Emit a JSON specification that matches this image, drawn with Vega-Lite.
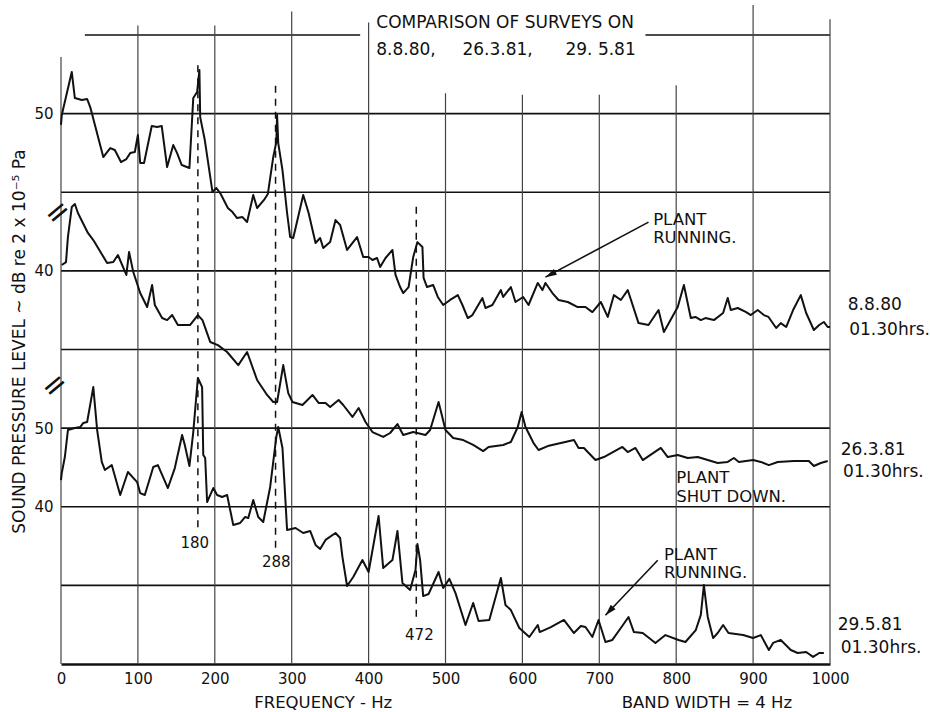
{
  "$schema": "https://vega.github.io/schema/vega-lite/v6.json",
  "width": 769,
  "height": 629,
  "autosize": {"type": "none"},
  "padding": {"left": 61, "top": 35, "right": 100, "bottom": 48},
  "background": "white",
  "config": {"view": {"stroke": null}, "font": "DejaVu Sans", "text": {"color": "#111", "font": "DejaVu Sans"}},
  "datasets": {
    "hlines": [
      {"f": 0, "f2": 1000, "v": 5}, {"f": 0, "f2": 1000, "v": 10}, {"f": 0, "f2": 1000, "v": 15},
      {"f": 0, "f2": 1000, "v": 20}, {"f": 0, "f2": 1000, "v": 25}, {"f": 0, "f2": 1000, "v": 30},
      {"f": 0, "f2": 1000, "v": 35}, {"f": 31, "f2": 389, "v": 40}, {"f": 760, "f2": 1000, "v": 40}
    ],
    "vlines": [
      {"f": 0, "v": 0, "v2": 38.6}, {"f": 100, "v": 0, "v2": 40.6}, {"f": 200, "v": 0, "v2": 40.6},
      {"f": 300, "v": 0, "v2": 41.5}, {"f": 400, "v": 0, "v2": 40.8}, {"f": 500, "v": 0, "v2": 36.3},
      {"f": 600, "v": 0, "v2": 36.2}, {"f": 700, "v": 0, "v2": 36.2}, {"f": 800, "v": 0, "v2": 36.8},
      {"f": 900, "v": 0, "v2": 41.9}, {"f": 1000, "v": 0, "v2": 41.0}
    ],
    "dashes": [
      {"f": 178, "v": 8.7, "v2": 38.4}, {"f": 279, "v": 7.4, "v2": 37.1}, {"f": 462, "v": 3.0, "v2": 29.3}
    ],
    "arrows": [
      {"id": 1, "f": 764, "v": 28.1, "f2": 630, "v2": 24.6},
      {"id": 2, "f": 776, "v": 6.6, "f2": 708, "v2": 3.1}
    ],
    "heads": [
      {"id": 1, "f": 630, "v": 24.6},
      {"id": 2, "f": 708, "v": 3.1}
    ],
    "breaks": [{"f": -4, "v": 28.7, "t": "="}, {"f": -8, "v": 17.7, "t": "="}],
    "notes": [
      {"g": "big", "f": 410, "v": 40.45, "t": "COMPARISON OF SURVEYS ON"},
      {"g": "big", "f": 410, "v": 38.73, "t": "8.8.80,"},
      {"g": "big", "f": 522, "v": 38.73, "t": "26.3.81,"},
      {"g": "big", "f": 656, "v": 38.73, "t": "29. 5.81"},
      {"g": "big", "f": 1023, "v": 22.51, "t": "8.8.80"},
      {"g": "big", "f": 1025, "v": 20.92, "t": "01.30hrs."},
      {"g": "big", "f": 1014, "v": 13.29, "t": "26.3.81"},
      {"g": "big", "f": 1017, "v": 11.89, "t": "01.30hrs."},
      {"g": "big", "f": 1010, "v": 2.16, "t": "29.5.81"},
      {"g": "big", "f": 1014, "v": 0.7, "t": "01.30hrs."},
      {"g": "ann", "f": 770, "v": 27.92, "t": "PLANT"},
      {"g": "ann", "f": 770, "v": 26.77, "t": "RUNNING."},
      {"g": "ann", "f": 800, "v": 11.51, "t": "PLANT"},
      {"g": "ann", "f": 800, "v": 10.3, "t": "SHUT DOWN."},
      {"g": "ann", "f": 784, "v": 6.61, "t": "PLANT"},
      {"g": "ann", "f": 784, "v": 5.47, "t": "RUNNING."},
      {"g": "hz", "f": 174, "v": 7.38, "t": "180"},
      {"g": "hz", "f": 280, "v": 6.17, "t": "288"},
      {"g": "hz", "f": 466, "v": 1.53, "t": "472"},
      {"g": "xt", "f": 341, "v": -2.8, "t": "FREQUENCY - Hz"},
      {"g": "xt", "f": 840, "v": -2.8, "t": "BAND WIDTH = 4 Hz"}
    ],
    "traces": [
      {"s":"8.8.80","f":0,"v":34.28},{"s":"8.8.80","f":1,"v":34.91},{"s":"8.8.80","f":14,"v":37.65},{"s":"8.8.80","f":18,"v":35.99},{"s":"8.8.80","f":27,"v":35.87},{"s":"8.8.80","f":34,"v":35.93},{"s":"8.8.80","f":38,"v":35.42},{"s":"8.8.80","f":55,"v":32.24},{"s":"8.8.80","f":64,"v":32.81},{"s":"8.8.80","f":70,"v":32.69},{"s":"8.8.80","f":78,"v":31.92},{"s":"8.8.80","f":85,"v":32.11},{"s":"8.8.80","f":90,"v":32.49},{"s":"8.8.80","f":96,"v":32.56},{"s":"8.8.80","f":100,"v":33.64},{"s":"8.8.80","f":103,"v":31.86},{"s":"8.8.80","f":108,"v":31.86},{"s":"8.8.80","f":118,"v":34.21},{"s":"8.8.80","f":125,"v":34.15},{"s":"8.8.80","f":131,"v":34.21},{"s":"8.8.80","f":138,"v":31.6},{"s":"8.8.80","f":146,"v":33.0},{"s":"8.8.80","f":151,"v":32.49},{"s":"8.8.80","f":157,"v":31.73},{"s":"8.8.80","f":167,"v":31.54},{"s":"8.8.80","f":172,"v":35.99},{"s":"8.8.80","f":177,"v":36.37},{"s":"8.8.80","f":180,"v":37.77},{"s":"8.8.80","f":181,"v":34.78},{"s":"8.8.80","f":187,"v":33.32},{"s":"8.8.80","f":197,"v":30.01},{"s":"8.8.80","f":202,"v":30.27},{"s":"8.8.80","f":207,"v":29.95},{"s":"8.8.80","f":217,"v":29.0},{"s":"8.8.80","f":223,"v":28.74},{"s":"8.8.80","f":229,"v":28.36},{"s":"8.8.80","f":236,"v":28.42},{"s":"8.8.80","f":242,"v":28.11},{"s":"8.8.80","f":250,"v":29.82},{"s":"8.8.80","f":255,"v":29.0},{"s":"8.8.80","f":264,"v":29.51},{"s":"8.8.80","f":269,"v":29.89},{"s":"8.8.80","f":276,"v":32.24},{"s":"8.8.80","f":280,"v":33.19},{"s":"8.8.80","f":281,"v":34.91},{"s":"8.8.80","f":282.5,"v":33.13},{"s":"8.8.80","f":288,"v":31.41},{"s":"8.8.80","f":294,"v":28.68},{"s":"8.8.80","f":298,"v":27.15},{"s":"8.8.80","f":302,"v":27.09},{"s":"8.8.80","f":315,"v":29.82},{"s":"8.8.80","f":322,"v":28.68},{"s":"8.8.80","f":331,"v":26.77},{"s":"8.8.80","f":337,"v":27.09},{"s":"8.8.80","f":341,"v":26.45},{"s":"8.8.80","f":350,"v":26.83},{"s":"8.8.80","f":357,"v":28.23},{"s":"8.8.80","f":363,"v":27.92},{"s":"8.8.80","f":372,"v":26.33},{"s":"8.8.80","f":385,"v":27.15},{"s":"8.8.80","f":393,"v":25.88},{"s":"8.8.80","f":400,"v":25.88},{"s":"8.8.80","f":405,"v":25.69},{"s":"8.8.80","f":411,"v":25.82},{"s":"8.8.80","f":415,"v":25.25},{"s":"8.8.80","f":422,"v":25.82},{"s":"8.8.80","f":431,"v":26.33},{"s":"8.8.80","f":435,"v":24.74},{"s":"8.8.80","f":441,"v":23.97},{"s":"8.8.80","f":445,"v":23.59},{"s":"8.8.80","f":452,"v":23.97},{"s":"8.8.80","f":458,"v":25.88},{"s":"8.8.80","f":463.5,"v":26.83},{"s":"8.8.80","f":470,"v":26.52},{"s":"8.8.80","f":471.5,"v":24.55},{"s":"8.8.80","f":476,"v":23.97},{"s":"8.8.80","f":484,"v":24.1},{"s":"8.8.80","f":490,"v":23.34},{"s":"8.8.80","f":497,"v":22.83},{"s":"8.8.80","f":506,"v":23.15},{"s":"8.8.80","f":516,"v":23.46},{"s":"8.8.80","f":522,"v":22.83},{"s":"8.8.80","f":529,"v":22.0},{"s":"8.8.80","f":535,"v":22.19},{"s":"8.8.80","f":548,"v":23.27},{"s":"8.8.80","f":552,"v":22.64},{"s":"8.8.80","f":561,"v":22.83},{"s":"8.8.80","f":572,"v":23.78},{"s":"8.8.80","f":575,"v":23.34},{"s":"8.8.80","f":585,"v":23.97},{"s":"8.8.80","f":591,"v":23.02},{"s":"8.8.80","f":601,"v":23.34},{"s":"8.8.80","f":608,"v":22.83},{"s":"8.8.80","f":620,"v":24.23},{"s":"8.8.80","f":626,"v":23.78},{"s":"8.8.80","f":630,"v":24.23},{"s":"8.8.80","f":639,"v":23.59},{"s":"8.8.80","f":647,"v":23.15},{"s":"8.8.80","f":659,"v":23.02},{"s":"8.8.80","f":672,"v":22.7},{"s":"8.8.80","f":682,"v":22.7},{"s":"8.8.80","f":691,"v":22.38},{"s":"8.8.80","f":702,"v":23.02},{"s":"8.8.80","f":711,"v":22.07},{"s":"8.8.80","f":719,"v":23.46},{"s":"8.8.80","f":728,"v":23.15},{"s":"8.8.80","f":737,"v":23.78},{"s":"8.8.80","f":751,"v":21.68},{"s":"8.8.80","f":764,"v":21.56},{"s":"8.8.80","f":777,"v":22.51},{"s":"8.8.80","f":784,"v":21.11},{"s":"8.8.80","f":802,"v":22.7},{"s":"8.8.80","f":810,"v":24.1},{"s":"8.8.80","f":819,"v":22.0},{"s":"8.8.80","f":825,"v":22.07},{"s":"8.8.80","f":832,"v":21.87},{"s":"8.8.80","f":838,"v":22.0},{"s":"8.8.80","f":849,"v":21.87},{"s":"8.8.80","f":861,"v":22.32},{"s":"8.8.80","f":867,"v":23.27},{"s":"8.8.80","f":871,"v":22.51},{"s":"8.8.80","f":880,"v":22.64},{"s":"8.8.80","f":891,"v":22.38},{"s":"8.8.80","f":897,"v":22.19},{"s":"8.8.80","f":906,"v":22.51},{"s":"8.8.80","f":914,"v":22.19},{"s":"8.8.80","f":920,"v":22.07},{"s":"8.8.80","f":930,"v":21.37},{"s":"8.8.80","f":936,"v":21.68},{"s":"8.8.80","f":943,"v":21.43},{"s":"8.8.80","f":952,"v":22.51},{"s":"8.8.80","f":962,"v":23.46},{"s":"8.8.80","f":969,"v":22.32},{"s":"8.8.80","f":979,"v":21.24},{"s":"8.8.80","f":986,"v":21.56},{"s":"8.8.80","f":992,"v":21.75},{"s":"8.8.80","f":997,"v":21.43},{"s":"8.8.80","f":1000,"v":21.43},
      {"s":"26.3.81","f":1,"v":25.37},{"s":"26.3.81","f":6.5,"v":25.56},{"s":"26.3.81","f":9,"v":27.15},{"s":"26.3.81","f":14,"v":29.06},{"s":"26.3.81","f":18,"v":29.25},{"s":"26.3.81","f":22,"v":28.68},{"s":"26.3.81","f":35,"v":27.41},{"s":"26.3.81","f":42,"v":26.96},{"s":"26.3.81","f":60,"v":25.5},{"s":"26.3.81","f":68,"v":25.56},{"s":"26.3.81","f":74,"v":26.01},{"s":"26.3.81","f":85,"v":24.74},{"s":"26.3.81","f":88.5,"v":26.2},{"s":"26.3.81","f":94,"v":24.93},{"s":"26.3.81","f":103,"v":23.59},{"s":"26.3.81","f":112,"v":22.7},{"s":"26.3.81","f":118.5,"v":24.1},{"s":"26.3.81","f":122,"v":22.83},{"s":"26.3.81","f":131.5,"v":22.0},{"s":"26.3.81","f":138,"v":21.87},{"s":"26.3.81","f":144.5,"v":22.19},{"s":"26.3.81","f":152,"v":21.56},{"s":"26.3.81","f":168,"v":21.56},{"s":"26.3.81","f":178,"v":22.19},{"s":"26.3.81","f":184,"v":21.87},{"s":"26.3.81","f":194,"v":20.48},{"s":"26.3.81","f":204,"v":20.28},{"s":"26.3.81","f":216,"v":19.84},{"s":"26.3.81","f":230.5,"v":19.01},{"s":"26.3.81","f":242,"v":19.84},{"s":"26.3.81","f":255,"v":18.06},{"s":"26.3.81","f":268,"v":17.11},{"s":"26.3.81","f":276,"v":16.66},{"s":"26.3.81","f":281,"v":16.66},{"s":"26.3.81","f":289,"v":19.01},{"s":"26.3.81","f":295.5,"v":17.23},{"s":"26.3.81","f":301,"v":16.66},{"s":"26.3.81","f":314,"v":16.47},{"s":"26.3.81","f":327,"v":17.11},{"s":"26.3.81","f":335,"v":16.6},{"s":"26.3.81","f":344,"v":16.6},{"s":"26.3.81","f":350,"v":16.34},{"s":"26.3.81","f":361,"v":16.79},{"s":"26.3.81","f":367,"v":16.47},{"s":"26.3.81","f":379,"v":15.71},{"s":"26.3.81","f":387,"v":16.28},{"s":"26.3.81","f":396,"v":15.39},{"s":"26.3.81","f":405,"v":14.75},{"s":"26.3.81","f":419,"v":14.44},{"s":"26.3.81","f":428,"v":14.69},{"s":"26.3.81","f":437.5,"v":15.26},{"s":"26.3.81","f":445,"v":14.56},{"s":"26.3.81","f":458,"v":14.75},{"s":"26.3.81","f":474,"v":14.56},{"s":"26.3.81","f":480,"v":14.88},{"s":"26.3.81","f":491,"v":16.66},{"s":"26.3.81","f":500,"v":14.88},{"s":"26.3.81","f":510,"v":14.37},{"s":"26.3.81","f":523,"v":14.24},{"s":"26.3.81","f":536,"v":13.93},{"s":"26.3.81","f":549,"v":13.54},{"s":"26.3.81","f":556,"v":13.8},{"s":"26.3.81","f":575,"v":13.93},{"s":"26.3.81","f":585,"v":14.12},{"s":"26.3.81","f":594,"v":15.07},{"s":"26.3.81","f":599,"v":16.02},{"s":"26.3.81","f":604,"v":15.07},{"s":"26.3.81","f":614.5,"v":14.05},{"s":"26.3.81","f":621,"v":13.61},{"s":"26.3.81","f":633,"v":13.86},{"s":"26.3.81","f":650,"v":14.05},{"s":"26.3.81","f":667,"v":14.24},{"s":"26.3.81","f":673,"v":13.74},{"s":"26.3.81","f":680,"v":13.74},{"s":"26.3.81","f":695,"v":12.97},{"s":"26.3.81","f":706,"v":13.16},{"s":"26.3.81","f":730,"v":13.8},{"s":"26.3.81","f":737,"v":13.48},{"s":"26.3.81","f":747,"v":13.74},{"s":"26.3.81","f":756.5,"v":12.97},{"s":"26.3.81","f":780,"v":13.74},{"s":"26.3.81","f":789,"v":13.16},{"s":"26.3.81","f":802,"v":13.29},{"s":"26.3.81","f":815,"v":13.1},{"s":"26.3.81","f":828,"v":13.16},{"s":"26.3.81","f":854,"v":12.78},{"s":"26.3.81","f":867,"v":12.85},{"s":"26.3.81","f":875,"v":13.1},{"s":"26.3.81","f":881.5,"v":12.85},{"s":"26.3.81","f":900,"v":12.97},{"s":"26.3.81","f":910,"v":12.85},{"s":"26.3.81","f":920.5,"v":12.65},{"s":"26.3.81","f":932,"v":12.85},{"s":"26.3.81","f":953,"v":12.91},{"s":"26.3.81","f":972.5,"v":12.91},{"s":"26.3.81","f":979,"v":12.59},{"s":"26.3.81","f":988,"v":12.78},{"s":"26.3.81","f":997,"v":12.91},
      {"s":"29.5.81","f":0,"v":11.7},{"s":"29.5.81","f":1,"v":12.15},{"s":"29.5.81","f":5,"v":13.16},{"s":"29.5.81","f":9,"v":14.88},{"s":"29.5.81","f":18,"v":15.01},{"s":"29.5.81","f":25,"v":15.07},{"s":"29.5.81","f":29,"v":15.33},{"s":"29.5.81","f":34,"v":15.39},{"s":"29.5.81","f":42,"v":17.61},{"s":"29.5.81","f":47,"v":14.88},{"s":"29.5.81","f":53,"v":12.85},{"s":"29.5.81","f":57,"v":12.34},{"s":"29.5.81","f":66,"v":12.65},{"s":"29.5.81","f":77,"v":10.75},{"s":"29.5.81","f":87,"v":12.21},{"s":"29.5.81","f":99,"v":11.57},{"s":"29.5.81","f":103,"v":10.87},{"s":"29.5.81","f":109,"v":10.75},{"s":"29.5.81","f":120,"v":12.53},{"s":"29.5.81","f":126,"v":12.65},{"s":"29.5.81","f":139,"v":11.19},{"s":"29.5.81","f":148,"v":12.46},{"s":"29.5.81","f":157.5,"v":14.56},{"s":"29.5.81","f":161,"v":13.93},{"s":"29.5.81","f":167,"v":12.59},{"s":"29.5.81","f":172,"v":14.75},{"s":"29.5.81","f":178,"v":18.19},{"s":"29.5.81","f":183.5,"v":17.61},{"s":"29.5.81","f":185,"v":13.29},{"s":"29.5.81","f":187.5,"v":13.1},{"s":"29.5.81","f":190,"v":10.3},{"s":"29.5.81","f":198,"v":11.19},{"s":"29.5.81","f":203,"v":10.75},{"s":"29.5.81","f":209.5,"v":10.62},{"s":"29.5.81","f":216,"v":10.75},{"s":"29.5.81","f":224,"v":8.84},{"s":"29.5.81","f":233,"v":8.97},{"s":"29.5.81","f":239.5,"v":9.35},{"s":"29.5.81","f":243.5,"v":9.28},{"s":"29.5.81","f":250,"v":10.43},{"s":"29.5.81","f":256.5,"v":9.35},{"s":"29.5.81","f":263,"v":9.03},{"s":"29.5.81","f":272,"v":11.26},{"s":"29.5.81","f":280,"v":14.44},{"s":"29.5.81","f":282.5,"v":15.07},{"s":"29.5.81","f":288,"v":13.74},{"s":"29.5.81","f":294,"v":8.52},{"s":"29.5.81","f":305,"v":8.65},{"s":"29.5.81","f":315,"v":8.33},{"s":"29.5.81","f":324,"v":8.46},{"s":"29.5.81","f":331,"v":7.57},{"s":"29.5.81","f":337,"v":7.31},{"s":"29.5.81","f":344,"v":7.89},{"s":"29.5.81","f":357,"v":8.33},{"s":"29.5.81","f":363,"v":8.01},{"s":"29.5.81","f":366,"v":6.8},{"s":"29.5.81","f":372,"v":4.96},{"s":"29.5.81","f":380,"v":5.53},{"s":"29.5.81","f":392,"v":6.61},{"s":"29.5.81","f":400,"v":5.85},{"s":"29.5.81","f":413,"v":9.41},{"s":"29.5.81","f":419,"v":6.1},{"s":"29.5.81","f":431,"v":6.61},{"s":"29.5.81","f":437.5,"v":8.46},{"s":"29.5.81","f":444,"v":5.15},{"s":"29.5.81","f":454,"v":4.71},{"s":"29.5.81","f":461,"v":5.98},{"s":"29.5.81","f":463.5,"v":7.63},{"s":"29.5.81","f":467,"v":6.61},{"s":"29.5.81","f":471,"v":4.32},{"s":"29.5.81","f":478,"v":4.45},{"s":"29.5.81","f":491,"v":5.85},{"s":"29.5.81","f":497,"v":4.83},{"s":"29.5.81","f":505,"v":5.41},{"s":"29.5.81","f":513,"v":4.51},{"s":"29.5.81","f":526,"v":2.48},{"s":"29.5.81","f":536,"v":3.88},{"s":"29.5.81","f":543,"v":2.73},{"s":"29.5.81","f":557,"v":2.8},{"s":"29.5.81","f":572,"v":5.47},{"s":"29.5.81","f":578,"v":3.75},{"s":"29.5.81","f":585,"v":3.43},{"s":"29.5.81","f":596,"v":2.29},{"s":"29.5.81","f":609,"v":1.72},{"s":"29.5.81","f":620,"v":2.48},{"s":"29.5.81","f":622.5,"v":2.03},{"s":"29.5.81","f":637,"v":2.35},{"s":"29.5.81","f":654,"v":2.8},{"s":"29.5.81","f":667,"v":1.97},{"s":"29.5.81","f":676,"v":2.42},{"s":"29.5.81","f":682,"v":2.35},{"s":"29.5.81","f":691,"v":1.72},{"s":"29.5.81","f":699,"v":2.8},{"s":"29.5.81","f":708,"v":1.4},{"s":"29.5.81","f":717,"v":1.53},{"s":"29.5.81","f":728,"v":2.29},{"s":"29.5.81","f":738,"v":2.99},{"s":"29.5.81","f":745,"v":2.03},{"s":"29.5.81","f":756.5,"v":1.97},{"s":"29.5.81","f":773,"v":1.34},{"s":"29.5.81","f":786,"v":1.84},{"s":"29.5.81","f":803,"v":1.53},{"s":"29.5.81","f":812,"v":1.4},{"s":"29.5.81","f":825.5,"v":2.16},{"s":"29.5.81","f":832,"v":3.12},{"s":"29.5.81","f":836,"v":5.02},{"s":"29.5.81","f":841,"v":2.99},{"s":"29.5.81","f":848,"v":1.65},{"s":"29.5.81","f":854,"v":1.97},{"s":"29.5.81","f":861,"v":2.48},{"s":"29.5.81","f":868,"v":1.97},{"s":"29.5.81","f":887,"v":1.84},{"s":"29.5.81","f":900,"v":1.65},{"s":"29.5.81","f":910,"v":1.84},{"s":"29.5.81","f":920.5,"v":0.89},{"s":"29.5.81","f":926,"v":1.34},{"s":"29.5.81","f":936,"v":1.53},{"s":"29.5.81","f":949,"v":0.89},{"s":"29.5.81","f":958,"v":0.7},{"s":"29.5.81","f":969,"v":0.76},{"s":"29.5.81","f":978,"v":0.45},{"s":"29.5.81","f":986,"v":0.7},{"s":"29.5.81","f":992,"v":0.7}
    ]
  },
  "encoding": {
    "x": {
      "field": "f", "type": "quantitative",
      "scale": {"domain": [0, 1000], "nice": false, "zero": false},
      "axis": {
        "values": [0, 100, 200, 300, 400, 500, 600, 700, 800, 900, 1000],
        "format": "d",
        "grid": false, "ticks": false, "domain": true, "domainColor": "#111", "domainWidth": 2.5,
        "labelFontSize": 15, "labelColor": "#111", "labelPadding": 7, "labelFlush": false,
        "labelFont": "DejaVu Sans", "title": null
      }
    },
    "y": {
      "field": "v", "type": "quantitative",
      "scale": {"domain": [0, 40], "nice": false, "zero": false},
      "axis": {
        "values": [10, 15, 25, 35],
        "labelExpr": "(datum.value == 35 || datum.value == 15) ? '50' : '40'",
        "grid": false, "ticks": false, "domain": false,
        "labelFontSize": 15, "labelColor": "#111", "labelPadding": 8, "labelFont": "DejaVu Sans",
        "title": "SOUND PRESSURE LEVEL ~ dB re 2 x 10⁻⁵ Pa",
        "titleFont": "DejaVu Sans", "titleFontSize": 17, "titleFontWeight": "normal", "titleColor": "#111",
        "titleX": -42, "titleY": 306, "titleAngle": 270, "titleAlign": "center", "titleBaseline": "middle"
      }
    }
  },
  "layer": [
    {
      "data": {"name": "hlines"},
      "mark": {"type": "rule", "color": "#111", "strokeWidth": 1.7},
      "encoding": {"x2": {"field": "f2"}}
    },
    {
      "data": {"name": "vlines"},
      "mark": {"type": "rule", "color": "#444", "strokeWidth": 1.2},
      "encoding": {"y2": {"field": "v2"}}
    },
    {
      "data": {"name": "dashes"},
      "mark": {"type": "rule", "color": "#111", "strokeWidth": 1.5, "strokeDash": [7, 6]},
      "encoding": {"y2": {"field": "v2"}}
    },
    {
      "data": {"name": "traces"},
      "mark": {"type": "line", "color": "#111", "strokeWidth": 2, "strokeJoin": "round"},
      "encoding": {"detail": {"field": "s", "type": "nominal"}}
    },
    {
      "data": {"name": "arrows"},
      "mark": {"type": "rule", "color": "#111", "strokeWidth": 1.6},
      "encoding": {"x2": {"field": "f2"}, "y2": {"field": "v2"}}
    },
    {
      "data": {"name": "heads"},
      "transform": [{"filter": "datum.id == 1"}],
      "mark": {"type": "point", "shape": "M0,0L-0.38,1.3L0.38,1.3Z", "filled": true, "color": "#111", "opacity": 1, "size": 300, "angle": 241.9}
    },
    {
      "data": {"name": "heads"},
      "transform": [{"filter": "datum.id == 2"}],
      "mark": {"type": "point", "shape": "M0,0L-0.38,1.3L0.38,1.3Z", "filled": true, "color": "#111", "opacity": 1, "size": 300, "angle": 223.4}
    },
    {
      "data": {"name": "breaks"},
      "mark": {"type": "text", "fontSize": 30, "angle": -40, "align": "center", "baseline": "middle", "color": "#111"},
      "encoding": {"text": {"field": "t"}}
    },
    {
      "data": {"name": "notes"},
      "transform": [{"filter": "datum.g == 'big'"}],
      "mark": {"type": "text", "fontSize": 17, "align": "left", "baseline": "alphabetic", "color": "#111"},
      "encoding": {"text": {"field": "t"}}
    },
    {
      "data": {"name": "notes"},
      "transform": [{"filter": "datum.g == 'ann'"}],
      "mark": {"type": "text", "fontSize": 16.5, "align": "left", "baseline": "alphabetic", "color": "#111"},
      "encoding": {"text": {"field": "t"}}
    },
    {
      "data": {"name": "notes"},
      "transform": [{"filter": "datum.g == 'hz'"}],
      "mark": {"type": "text", "fontSize": 15, "align": "center", "baseline": "alphabetic", "color": "#111"},
      "encoding": {"text": {"field": "t"}}
    },
    {
      "data": {"name": "notes"},
      "transform": [{"filter": "datum.g == 'xt'"}],
      "mark": {"type": "text", "fontSize": 16.5, "align": "center", "baseline": "alphabetic", "color": "#111"},
      "encoding": {"text": {"field": "t"}}
    }
  ]
}
